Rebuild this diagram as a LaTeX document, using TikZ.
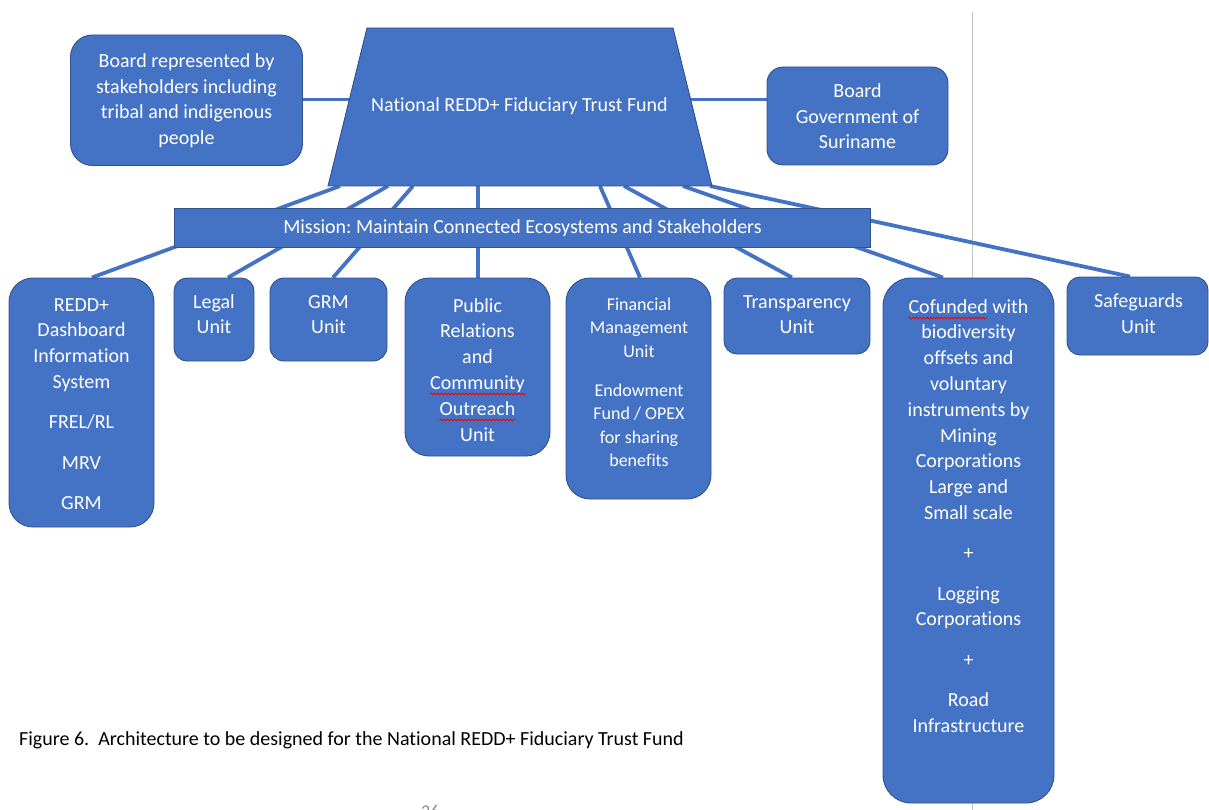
\documentclass[tikz,border=0pt]{standalone}
\usepackage{fontspec}
\setmainfont{Carlito}[Ligatures={NoCommon}]
\frenchspacing
\usetikzlibrary{decorations.pathmorphing}
\definecolor{boxblue}{HTML}{4472C4}
\definecolor{boxedge}{HTML}{2F528F}
\definecolor{rulegray}{HTML}{C4C4C4}
\definecolor{pagegray}{HTML}{8C8C8C}
\pgfdeclarelayer{background}
\pgfsetlayers{background,main}
\newcommand{\boxlines}[1]{\begin{tabular}[t]{@{}c@{}}#1\end{tabular}}
\tikzset{
  unitbox/.style={draw=boxedge, line width=0.9pt, fill=boxblue, rectangle, inner sep=0pt},
  boxtext/.style={text=white, anchor=base, inner sep=0pt, font=\fontsize{20}{25.8}\selectfont},
  smalltext/.style={text=white, anchor=base, inner sep=0pt, font=\fontsize{18}{23.5}\selectfont},
  link/.style={draw=boxblue, line width=3.8pt},
  squig/.style={draw=red, line width=0.8pt, decorate, decoration={snake, amplitude=0.9pt, segment length=3.5pt}}
}
\begin{document}
\begin{tikzpicture}[x=1pt, y=-1pt]
\useasboundingbox (0,0) rectangle (1209,810);
\begin{scope}
\clip (0,0) rectangle (1209,810);

% trapezoid (fund)
\coordinate (tl) at (367,28);
\coordinate (tr) at (673,28);
\coordinate (br) at (712,186);
\coordinate (bl) at (328,186);
\draw[draw=boxedge, line width=0.9pt, fill=boxblue] (tl) -- (tr) -- (br) -- (bl) -- cycle;
\node[boxtext] (fund) at (519.5,111.7) {National REDD+ Fiduciary Trust Fund};
\coordinate (fl) at (349,99.5);
\coordinate (fr) at (691,99.5);
\coordinate (b1) at (340,186);
\coordinate (b2) at (388,186);
\coordinate (b3) at (413,186);
\coordinate (b4) at (478,186);
\coordinate (b5) at (600,186);
\coordinate (b6) at (624,186);
\coordinate (b7) at (683,186);
\coordinate (b8) at (710,186);

% boards
\node[unitbox, rounded corners=22pt, minimum width=232pt, minimum height=130.5pt] (bleft) at (186.5,100.25) {};
\node[boxtext] (bleftT) at (186.5,67.3) {\boxlines{Board represented by\\stakeholders including\\tribal and indigenous\\people}};
\node[unitbox, rounded corners=16pt, minimum width=181pt, minimum height=98pt] (bright) at (857.5,116) {};
\node[boxtext] (brightT) at (857.5,97.3) {\boxlines{Board\\Government of\\Suriname}};

% mission bar
\node[unitbox, minimum width=696pt, minimum height=39pt] (mission) at (522,227.5) {};
\node[boxtext] (missionT) at (522.5,234) {Mission: Maintain Connected Ecosystems and Stakeholders};

% unit boxes
\node[unitbox, rounded corners=24pt, minimum width=145pt, minimum height=249pt] (redd) at (81.5,402.5) {};
\node[boxtext] (reddT) at (81.5,311) {\boxlines{REDD+\\Dashboard\\Information\\System\\[14.5pt]FREL/RL\\[14.5pt]MRV\\[14.5pt]GRM}};

\node[unitbox, rounded corners=13pt, minimum width=80pt, minimum height=83pt] (legal) at (214,319.5) {};
\node[boxtext] (legalT) at (214,308) {\boxlines{Legal\\Unit}};

\node[unitbox, rounded corners=14pt, minimum width=117pt, minimum height=83pt] (grm) at (328.5,319.5) {};
\node[boxtext] (grmT) at (328.5,308) {\boxlines{GRM\\Unit}};

\node[unitbox, rounded corners=24pt, minimum width=145pt, minimum height=178pt] (pr) at (477.5,367) {};
\node[boxtext] (prT) at (477.5,312) {\boxlines{Public\\Relations\\and\\Community\\Outreach\\Unit}};

\node[unitbox, rounded corners=24pt, minimum width=145pt, minimum height=221pt] (fin) at (638.5,388.5) {};
\node[smalltext] (finT) at (639,310) {\boxlines{Financial\\Management\\Unit\\[15.8pt]Endowment\\Fund / OPEX\\for sharing\\benefits}};

\node[unitbox, rounded corners=13pt, minimum width=146pt, minimum height=76pt] (transp) at (797,316) {};
\node[boxtext] (transpT) at (797,308) {\boxlines{Transparency\\Unit}};

\node[unitbox, rounded corners=28pt, minimum width=171pt, minimum height=525pt] (cof) at (968.5,540.5) {};
\node[boxtext] (cofT) at (968.5,313) {\boxlines{Cofunded with\\biodiversity\\offsets and\\voluntary\\instruments by\\Mining\\Corporations\\Large and\\Small scale\\[14.5pt]+\\[14.5pt]Logging\\Corporations\\[14.5pt]+\\[14.5pt]Road\\Infrastructure}};

\node[unitbox, rounded corners=13pt, minimum width=141pt, minimum height=78pt] (safe) at (1137.5,316) {};
\node[boxtext] (safeT) at (1138.5,307.5) {\boxlines{Safeguards\\Unit}};

% spell-check squiggles
\draw[squig] (908.5,318) -- (987,318);
\draw[squig] (430,394) -- (525,394);
\draw[squig] (439.5,420) -- (515.5,420);

% caption and page number
\node[anchor=base west, inner sep=0pt, font=\fontsize{20}{24}\selectfont] (caption) at (19,745) {Figure 6.\ \ Architecture to be designed for the National REDD+ Fiduciary Trust Fund};
\node[anchor=base west, inner sep=0pt, text=pagegray, font=\fontsize{18}{20}\selectfont] (pagenum) at (421,817) {26};

\begin{pgfonlayer}{background}
  \draw[rulegray, line width=1pt] (972,12) -- (972,810);
  \draw[link] (bleft.east |- fl) -- (fl);
  \draw[link] (fr) -- (fr -| bright.west);
  \draw[link] (b1) -- ([xshift=10.5pt]redd.north);
  \draw[link] (b2) -- ([xshift=14pt]legal.north);
  \draw[link] (b3) -- ([xshift=4.5pt]grm.north);
  \draw[link] (b4) -- ([xshift=0.5pt]pr.north);
  \draw[link] (b5) -- ([xshift=1.5pt]fin.north);
  \draw[link] (b6) -- ([xshift=-5pt]transp.north);
  \draw[link] (b7) -- ([xshift=-25.5pt]cof.north);
  \draw[link] (b8) -- ([xshift=-7.5pt]safe.north);
\end{pgfonlayer}
\end{scope}
\end{tikzpicture}
\end{document}
